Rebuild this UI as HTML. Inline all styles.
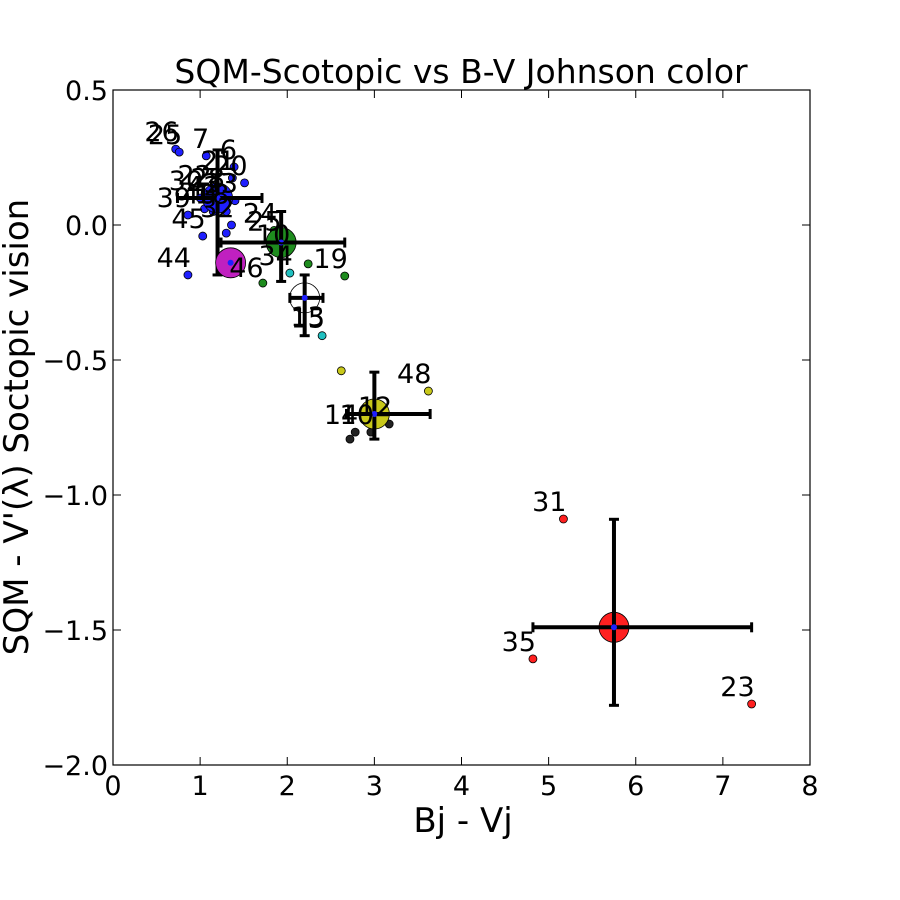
<!DOCTYPE html>
<html><head><meta charset="utf-8">
<style>
html,body{margin:0;padding:0;background:#fff;}
svg{display:block;font-family:"DejaVu Sans","Liberation Sans",sans-serif;}
</style></head>
<body>
<svg id="chart" width="900" height="900" viewBox="0 0 900 900">
<rect width="900" height="900" fill="#fff"/>
<text x="461" y="83" font-size="33" text-anchor="middle">SQM-Scotopic vs B-V Johnson color</text>
<text x="463" y="832" font-size="34" text-anchor="middle">Bj - Vj</text>
<text transform="translate(28,427) rotate(-90)" font-size="34" text-anchor="middle">SQM - V'(λ) Soctopic vision</text>
<g id="ticks"></g>
<g id="marks"></g>
<rect x="113" y="90" width="697" height="675" fill="none" stroke="#000" stroke-width="1.2"/>
</svg>
<script>
const xTicks=[0,1,2,3,4,5,6,7,8];
const yTicks=[0.5,0.0,-0.5,-1.0,-1.5,-2.0];
const yTickLabels=["0.5","0.0","\u22120.5","\u22121.0","\u22121.5","\u22122.0"];
// small points
const ptX=[0.72,0.76,1.07,1.39,1.37,1.51,0.86,1.36,1.03,0.86,1.10,1.20,1.30,1.15,1.25,1.40,1.00,1.30,1.05,
 2.24,2.66,1.72,1.90,2.00,1.85,2.03,2.40,2.62,3.62,2.72,2.78,2.96,3.17,5.17,4.82,7.33];
const ptY=[0.281,0.27,0.256,0.215,0.174,0.156,0.037,0.0,-0.041,-0.185,0.12,0.08,0.05,0.05,0.11,0.09,0.10,-0.03,0.06,
 -0.144,-0.189,-0.215,-0.05,-0.10,-0.02,-0.178,-0.41,-0.54,-0.615,-0.793,-0.767,-0.767,-0.737,-1.089,-1.607,-1.774];
const ptColor=["b","b","b","b","b","b","b","b","b","b","b","b","b","b","b","b","b","b","b",
 "g","g","g","g","g","g","c","c","y","y","k","k","k","k","r","r","r"];
const ptLabel=["26","25","7","6","21","20","39","32","45","44","22","42","18","40","28","33","30","","",
 "","19","","25","10","24","34","15","","48","","14","10","12","31","35","23"];
// group means with asymmetric error bars
const grpX=[1.20,1.93,1.35,2.20,3.00,5.75];
const grpY=[0.10,-0.065,-0.14,-0.27,-0.70,-1.49];
const grpXlo=[0.46,0.69,0,0.17,0.32,0.93];
const grpXhi=[0.51,0.73,0,0.21,0.64,1.58];
const grpYhi=[0.178,0.115,0,0.085,0.155,0.40];
const grpYlo=[0.285,0.144,0,0.14,0.093,0.289];
const grpColor=["b","g","m","w","y","r"];
const grpLabel=["","","46","13","",""];

const colors={b:"#1f1fff",g:"#1e8c1e",c:"#20c0c0",y:"#c8c81a",k:"#222",r:"#ff2020",m:"#c020c0",w:"none"};
const X=v=>113+v*697/8;
const Y=v=>90+(0.5-v)*675/2.5;
const NS="http://www.w3.org/2000/svg";
function mk(tag,attrs,parent){const e=document.createElementNS(NS,tag);for(const k in attrs)e.setAttribute(k,attrs[k]);parent.appendChild(e);return e;}
const tg=document.getElementById('ticks'), mg=document.getElementById('marks');
xTicks.forEach(t=>{
 const l=mk('line',{x1:X(t),x2:X(t),y1:765,y2:757,stroke:'#000'},tg);
 
 
 const l2=mk('line',{x1:X(t),x2:X(t),y1:90,y2:98,stroke:'#000'},tg);
 
 
 const tx=mk('text',{x:X(t),y:795,'font-size':27,'text-anchor':'middle'},tg);tx.textContent=t;
 
 
});
yTicks.forEach((t,i)=>{
 const l=mk('line',{x1:113,x2:121,y1:Y(t),y2:Y(t),stroke:'#000'},tg);
 
 
 const l2=mk('line',{x1:802,x2:810,y1:Y(t),y2:Y(t),stroke:'#000'},tg);
 
 
 const tx=mk('text',{x:108,y:Y(t)+10,'font-size':27,'text-anchor':'end'},tg);tx.textContent=yTickLabels[i];
 
 
});
ptX.forEach((v,i)=>{
 const c=mk('circle',{cx:X(v),cy:Y(ptY[i]),r:4,fill:colors[ptColor[i]],stroke:'#000','stroke-width':0.8},mg);
 
 
});
grpX.forEach((v,i)=>{
 const cx=X(v),cy=Y(grpY[i]);
 const c=mk('circle',{cx:cx,cy:cy,r:15,fill:colors[grpColor[i]],stroke:'#000','stroke-width':0.8},mg);
 
 
 if(grpXhi[i]>0){
  const x1=X(v-grpXlo[i]),x2=X(v+grpXhi[i]),y1=Y(grpY[i]+grpYhi[i]),y2=Y(grpY[i]-grpYlo[i]);
  const g=mk('g',{stroke:'#000','stroke-width':4},mg);
  
  
  mk('line',{x1:x1,x2:x2,y1:cy,y2:cy},g);
  mk('line',{x1:cx,x2:cx,y1:y1,y2:y2},g);
  mk('line',{x1:x1,x2:x1,y1:cy-5,y2:cy+5,'stroke-width':3},g);
  mk('line',{x1:x2,x2:x2,y1:cy-5,y2:cy+5,'stroke-width':3},g);
  mk('line',{x1:cx-5,x2:cx+5,y1:y1,y2:y1,'stroke-width':3},g);
  mk('line',{x1:cx-5,x2:cx+5,y1:y2,y2:y2,'stroke-width':3},g);
 }
 const d=mk('circle',{cx:cx,cy:cy,r:3,fill:'#1f1fff'},mg);
 
 
});
ptX.forEach((v,i)=>{
 if(!ptLabel[i])return;
 const t=mk('text',{x:X(v)+3,y:Y(ptY[i])-8,'font-size':27,'text-anchor':'end'},mg);t.textContent=ptLabel[i];
 
 
});
grpX.forEach((v,i)=>{
 if(!grpLabel[i])return;
 const t=mk('text',{x:X(v)+(i==3?20:33),y:Y(grpY[i])+(i==3?28:14),'font-size':27,'text-anchor':'end'},mg);t.textContent=grpLabel[i];
 
 
});
</script>
</body></html>
